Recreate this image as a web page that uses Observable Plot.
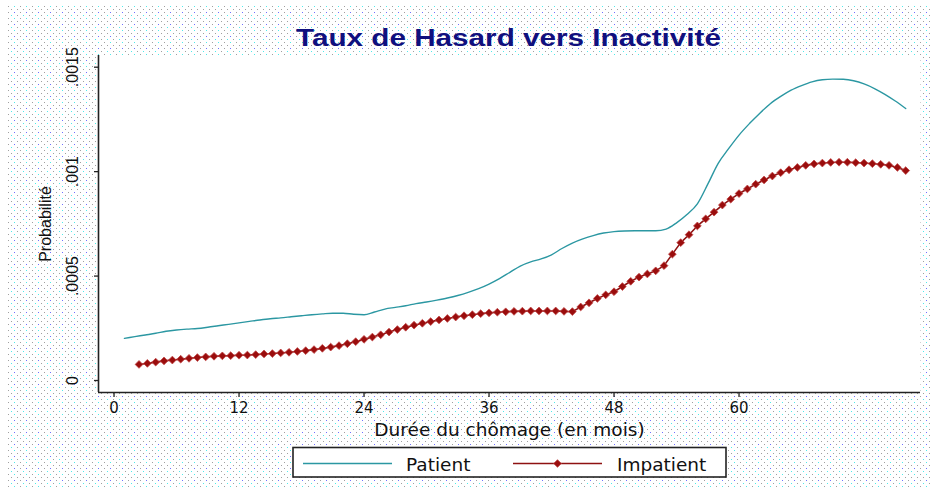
<!DOCTYPE html>
<html>
<head>
<meta charset="utf-8">
<script src="https://cdn.jsdelivr.net/npm/d3@7"></script>
<script src="https://cdn.jsdelivr.net/npm/@observablehq/plot@0.6"></script>
<style>
  body { margin: 0; background: #fff; }
  #wrap { position: relative; width: 935px; height: 493px; overflow: hidden; }
  #bg { position: absolute; left: 8px; top: 6px; width: 922px; height: 482px; }
  #title { position: absolute; left: 0; top: 27px; width: 1017px; text-align: center;
    font-family: "Liberation Sans", Arial, sans-serif; font-weight: bold; font-size: 23px; line-height: 1;
    color: #10107e; white-space: nowrap; transform: scaleX(1.29); transform-origin: 508.5px 0; }
  #chart { position: absolute; left: 0; top: 0; }
  #legend { position: absolute; left: 0; top: 0; }
</style>
</head>
<body>
<div id="wrap">
  <div id="bg"></div>
  <div id="chart"></div>
  <div id="title"></div>
  <svg id="legend" width="935" height="493"></svg>
</div>
<script>
// ---- Data ----
const title = "Taux de Hasard vers Inactivité";
const xLabel = "Durée du chômage (en mois)";
const yLabel = "Probabilité";
const seriesNames = ["Patient", "Impatient"];
const xTicks = [0, 12, 24, 36, 48, 60];
const yTicks = [0, 0.0005, 0.001, 0.0015];

// Patient: months and hazard (x 1e-4)
const patientMonths = [1,2,3,4,5,6,7,8,9,10,11,12,13,14,15,16,17,18,19,20,21,22,23,24,25,26,27,28,29,30,31,32,33,34,35,36,37,38,39,40,41,42,43,44,45,46,47,48,49,50,51,52,53,54,55,56,57,58,59,60,61,62,63,64,65,66,67,68,69,70,71,72,73,74,75,76];
const patientPer10k = [2.02,2.10,2.18,2.26,2.36,2.42,2.46,2.49,2.55,2.62,2.69,2.76,2.83,2.90,2.96,3.00,3.05,3.10,3.15,3.19,3.22,3.22,3.17,3.15,3.28,3.42,3.50,3.58,3.68,3.76,3.85,3.95,4.07,4.22,4.40,4.62,4.88,5.18,5.48,5.68,5.82,6.02,6.32,6.58,6.78,6.94,7.06,7.13,7.16,7.17,7.17,7.17,7.25,7.55,7.95,8.46,9.40,10.40,11.10,11.75,12.30,12.80,13.25,13.60,13.90,14.12,14.30,14.40,14.43,14.42,14.35,14.20,13.98,13.70,13.38,13.02];

// Impatient: months and hazard (x 1e-4)
const impatientMonths = [2.4,3.2,4.0,4.8,5.6,6.4,7.2,8.0,8.8,9.6,10.4,11.2,12.0,12.8,13.6,14.4,15.2,16.0,16.8,17.6,18.4,19.2,20.0,20.8,21.6,22.4,23.2,24.0,24.8,25.6,26.4,27.2,28.0,28.8,29.6,30.4,31.2,32.0,32.8,33.6,34.4,35.2,36.0,36.8,37.6,38.4,39.2,40.0,40.8,41.6,42.4,43.2,44.0,44.8,45.6,46.4,47.2,48.0,48.8,49.6,50.4,51.2,52.0,52.8,53.6,54.4,55.2,56.0,56.8,57.6,58.4,59.2,60.0,60.8,61.6,62.4,63.2,64.0,64.8,65.6,66.4,67.2,68.0,68.8,69.6,70.4,71.2,72.0,72.8,73.6,74.4,75.2,76.0];
const impatientPer10k = [0.77,0.82,0.88,0.94,0.98,1.02,1.06,1.10,1.13,1.16,1.18,1.19,1.21,1.22,1.24,1.27,1.29,1.32,1.35,1.39,1.43,1.48,1.54,1.60,1.67,1.76,1.86,1.97,2.08,2.19,2.32,2.44,2.55,2.65,2.74,2.82,2.90,2.97,3.04,3.10,3.15,3.20,3.24,3.27,3.29,3.31,3.32,3.33,3.33,3.33,3.33,3.31,3.30,3.52,3.72,3.93,4.10,4.25,4.50,4.75,4.95,5.10,5.25,5.50,6.05,6.60,6.98,7.40,7.74,8.06,8.40,8.68,8.95,9.17,9.40,9.60,9.79,9.95,10.09,10.20,10.30,10.37,10.41,10.44,10.45,10.45,10.43,10.41,10.38,10.35,10.30,10.20,10.05];

const patientColor = "#2b97a2";
const impatientColor = "#8e1212";
const markerFill = "#9a0d0d";
const markerStroke = "#c24848";

const patient = patientMonths.map((m, i) => ({month: m, hazard: patientPer10k[i] / 10000}));
const impatient = impatientMonths.map((m, i) => ({month: m, hazard: impatientPer10k[i] / 10000}));

const xDomain = [-1.49, 77.42];
const yDomain = [-0.0000574, 0.001556];

// ---- background pattern (Stata-like dotted backdrop) ----
(function () {
  const c = {g: "#a0a0a0", c: "#4feaea", b: "#7070ff", w: null};
  const layout = [
    ["g","w","c","w"],
    ["w","g","w","g"],
    ["g","w","b","w"],
    ["w","c","w","g"]
  ];
  let s = "<svg xmlns='http://www.w3.org/2000/svg' width='12' height='12'><rect width='12' height='12' fill='white'/>";
  layout.forEach((row, r) => row.forEach((k, j) => {
    if (c[k]) s += `<rect x='${j*3}' y='${r*3}' width='1' height='1' fill='${c[k]}'/>`;
  }));
  s += "</svg>";
  document.getElementById("bg").style.backgroundImage = `url("data:image/svg+xml,${encodeURIComponent(s)}")`;
})();

document.getElementById("title").textContent = title;

const fmtY = d => d === 0 ? "0" : String(d).replace(/^0\./, ".");

const chart = Plot.plot({
  width: 935,
  height: 493,
  marginTop: 55,
  marginBottom: 101,
  marginLeft: 98,
  marginRight: 15,
  style: {background: "transparent", fontFamily: "DejaVu Sans, sans-serif", fontSize: "16px", color: "#111"},
  x: {domain: xDomain},
  y: {domain: yDomain},
  marks: [
    Plot.frame({fill: "white", stroke: null}),
    Plot.axisX({ticks: xTicks, tickSize: 5, tickPadding: 5, label: null, fontSize: 15, stroke: "#222", strokeWidth: 1.3}),
    Plot.axisY({ticks: yTicks, tickSize: 4, tickPadding: 17, tickRotate: -90, tickFormat: fmtY, label: null,
      fontFamily: "Liberation Sans, Arial, sans-serif", fontSize: 16, stroke: "#222", strokeWidth: 1.3}),
    Plot.ruleY([yDomain[0]], {stroke: "#222", strokeWidth: 1.6}),
    Plot.ruleX([xDomain[0]], {stroke: "#222", strokeWidth: 1.6}),
    Plot.text([xLabel], {frameAnchor: "bottom", dy: 43.5, fontSize: 18.5, fontFamily: "DejaVu Sans, sans-serif", fill: "#111"}),
    Plot.text([yLabel], {frameAnchor: "left", dx: -53, rotate: -90, textAnchor: "middle", fontSize: 16,
      fontFamily: "Liberation Sans, Arial, sans-serif", fill: "#111"}),
    Plot.line(patient, {x: "month", y: "hazard", stroke: patientColor, strokeWidth: 1.4, curve: "monotone-x"}),
    Plot.line(impatient, {x: "month", y: "hazard", stroke: impatientColor, strokeWidth: 1.6}),
    Plot.dot(impatient, {x: "month", y: "hazard", symbol: "diamond2", r: 3.5, fill: markerFill, stroke: markerStroke, strokeWidth: 0.8})
  ]
});
document.getElementById("chart").appendChild(chart);

// ---- legend (below the plot) ----
const lg = d3.select("#legend");
const box = {x: 293, y: 447.5, w: 433, h: 29.5};
lg.append("rect").attr("x", box.x).attr("y", box.y).attr("width", box.w).attr("height", box.h)
  .attr("fill", "white").attr("stroke", "#222").attr("stroke-width", 1.6);
const items = [
  {name: seriesNames[0], x0: 303, x1: 392, tx: 406, color: patientColor, marker: false},
  {name: seriesNames[1], x0: 513, x1: 602, tx: 617, color: impatientColor, marker: true}
];
const ly = 463.5;
items.forEach(it => {
  lg.append("line").attr("x1", it.x0).attr("x2", it.x1).attr("y1", ly).attr("y2", ly)
    .attr("stroke", it.color).attr("stroke-width", 1.6);
  if (it.marker) {
    lg.append("path").attr("d", d3.symbol(d3.symbolDiamond2, Math.PI * 12)())
      .attr("transform", `translate(${(it.x0 + it.x1) / 2},${ly})`)
      .attr("fill", markerFill).attr("stroke", markerStroke).attr("stroke-width", 0.8);
  }
  lg.append("text").attr("x", it.tx).attr("y", 470.5).text(it.name)
    .attr("font-family", "DejaVu Sans, sans-serif").attr("font-size", 18.5).attr("fill", "#111");
});
</script>
</body>
</html>
